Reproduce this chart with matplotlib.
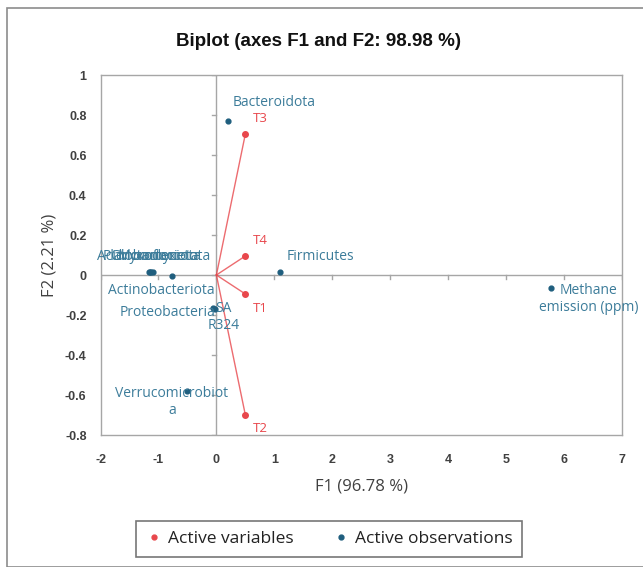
import matplotlib
matplotlib.use("Agg")
import matplotlib.pyplot as plt
from matplotlib.patches import Rectangle
from matplotlib.lines import Line2D

# Active variables (red vectors)
var_names = ["T1", "T2", "T3", "T4"]
var_x = [0.50, 0.50, 0.50, 0.50]
var_y = [-0.095, -0.70, 0.705, 0.095]

# Active observations (blue points)
obs_names = ["Bacteroidota", "Firmicutes", "Methane\nemission (ppm)", "Actinobacteriota",
             "Planctomycetota", "Chloroflexi", "Myxococcota", "Acidobacteriota",
             "Proteobacteria", "SA\nR324", "Verrucomicrobiot\na"]
obs_x = [0.20, 1.10, 5.78, -0.77, -1.15, -1.12, -1.10, -1.17, -0.05, -0.03, -0.50]
obs_y = [0.77, 0.015, -0.065, -0.005, 0.015, 0.015, 0.015, 0.015, -0.165, -0.17, -0.58]

x_ticks = [-2, -1, 0, 1, 2, 3, 4, 5, 6, 7]
y_ticks = [-0.8, -0.6, -0.4, -0.2, 0, 0.2, 0.4, 0.6, 0.8, 1]

RED = "#E8474C"
BLUE = "#1F5E7E"
LBLUE = "#3C7C9A"
GRAY = "#A6A6A6"
TXT = "#404040"

fig = plt.figure(figsize=(6.43, 5.67), dpi=100)
fig.patches.append(Rectangle((7/643, 0), 1, 1 - 8/567, transform=fig.transFigure,
                             fill=False, edgecolor="#8C8C8C", linewidth=1.2))

ax = fig.add_axes([100.5/643, 1 - 435/567, (622 - 100.5)/643, (435 - 75)/567])
ax.set_xlim(-2, 7)
ax.set_ylim(-0.8, 1)
ax.set_xticks(x_ticks)
ax.set_yticks(y_ticks)
ax.set_xticklabels([str(t) for t in x_ticks])
ax.set_yticklabels([("%g" % t) for t in y_ticks])
for s in ax.spines.values():
    s.set_color(GRAY)
    s.set_linewidth(1.0)
ax.tick_params(length=0, labelsize=9, labelcolor=TXT)
ax.tick_params(axis="x", pad=14)
ax.tick_params(axis="y", pad=10)
for lab in ax.get_xticklabels() + ax.get_yticklabels():
    lab.set_fontfamily("Liberation Sans")
    lab.set_fontweight("bold")

# zero lines with small ticks
ax.axhline(0, color=GRAY, lw=1.0, zorder=1)
ax.axvline(0, color=GRAY, lw=1.0, zorder=1)
for yt in y_ticks:
    ax.plot([-0.07, 0.0], [yt, yt], color=GRAY, lw=1.0, zorder=1)
for xt in x_ticks:
    ax.plot([xt, xt], [0, -0.02], color=GRAY, lw=1.0, zorder=1)

# vectors
for x, y in zip(var_x, var_y):
    ax.plot([0, x], [0, y], color=RED, lw=1.0, alpha=0.8, zorder=2)
ax.scatter(var_x, var_y, s=16, color=RED, zorder=3)

var_off = {"T1": (0.25, -0.07), "T2": (0.25, -0.07), "T3": (0.25, 0.08), "T4": (0.25, 0.08)}
for n, x, y in zip(var_names, var_x, var_y):
    dx, dy = var_off[n]
    ax.text(x + dx, y + dy, n, color=RED, fontsize=9.5, ha="center", va="center",
            fontfamily="Open Sans")

ax.scatter(obs_x, obs_y, s=12, color=BLUE, zorder=3)

obs_pos = {
    "Bacteroidota": (1.0, 0.865),
    "Firmicutes": (1.8, 0.09),
    "Methane\nemission (ppm)": (6.42, -0.12),
    "Actinobacteriota": (-0.95, -0.075),
    "Planctomycetota": (-1.03, 0.09),
    "Chloroflexi": (-1.23, 0.09),
    "Myxococcota": (-0.98, 0.09),
    "Acidobacteriota": (-1.18, 0.09),
    "Proteobacteria": (-0.85, -0.185),
    "SA\nR324": (0.12, -0.21),
    "Verrucomicrobiot\na": (-0.77, -0.635),
}
for n in obs_names:
    tx, ty = obs_pos[n]
    ax.text(tx, ty, n, color=LBLUE, fontsize=10, ha="center", va="center",
            fontfamily="Open Sans", linespacing=1.2)

ax.set_xlabel("F1 (96.78 %)", fontsize=12, color=TXT, fontfamily="Open Sans", labelpad=9)
ax.set_ylabel("F2 (2.21 %)", fontsize=12, color=TXT, fontfamily="Open Sans", labelpad=5)

fig.text(319/643, 1 - 41/567, "Biplot (axes F1 and F2: 98.98 %)", ha="center", va="center",
         fontsize=13.5, fontweight="bold", fontfamily="Liberation Sans", color="#111111")

handles = [Line2D([], [], marker="o", ls="", color=RED, markersize=3.5),
           Line2D([], [], marker="o", ls="", color=BLUE, markersize=3.5)]
leg = fig.legend(handles, ["Active variables", "Active observations"], loc="center",
                 bbox_to_anchor=(329/643, 1 - 539/567), ncol=2, frameon=True,
                 fancybox=False, edgecolor="#555555", handletextpad=0.3,
                 columnspacing=2.2, handlelength=1.0,
                 prop={"family": "Open Sans", "size": 12.5}, borderpad=0.55,
                 borderaxespad=0)
leg.get_frame().set_linewidth(1.2)
for t in leg.get_texts():
    t.set_color("#222222")

fig.savefig("out.png", dpi=100, facecolor="white")
